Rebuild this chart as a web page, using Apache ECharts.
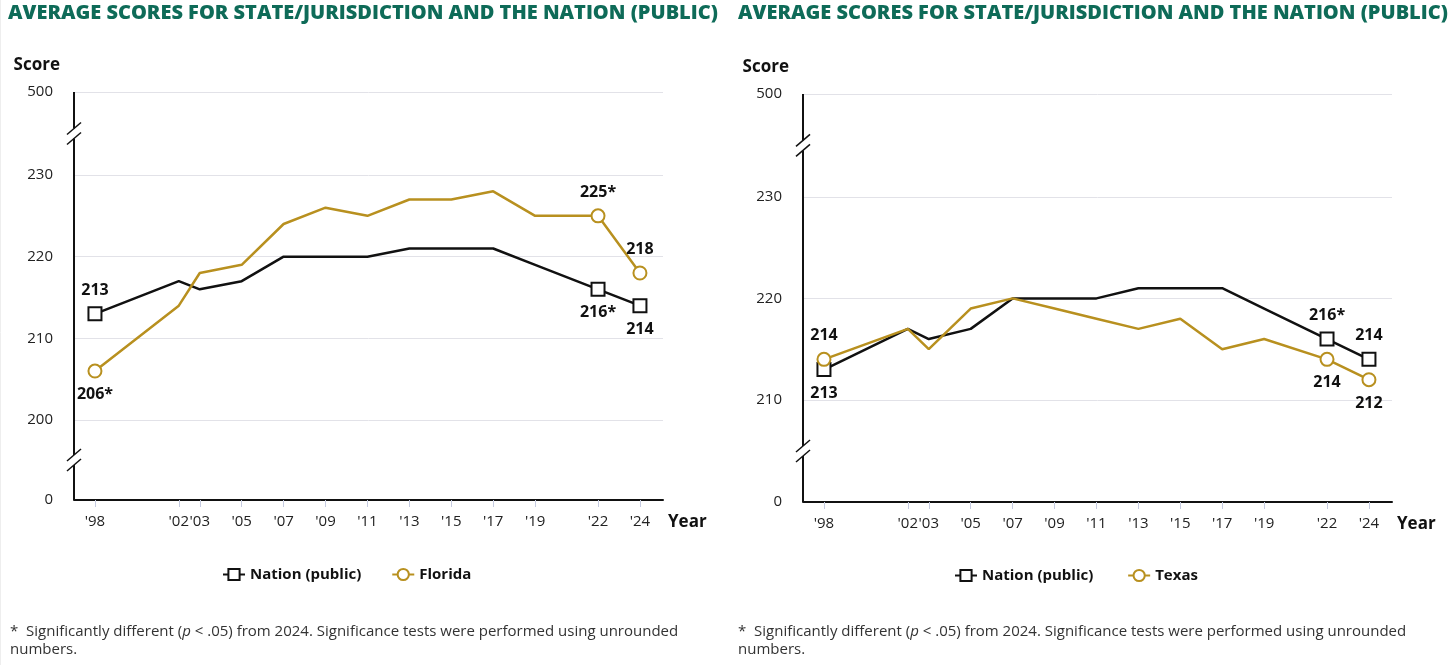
<!DOCTYPE html>
<html><head><meta charset="utf-8">
<script src="https://cdn.jsdelivr.net/npm/echarts@6/dist/echarts.min.js"></script>
<style>html,body{margin:0;padding:0;background:#fff}#c{width:1456px;height:665px}</style>
</head><body><div id="c"></div>
<script>
// ---------- data ----------
const years = [1998, 2002, 2003, 2005, 2007, 2009, 2011, 2013, 2015, 2017, 2019, 2022, 2024];
const nationScores  = [213, 217, 216, 217, 220, 220, 220, 221, 221, 221, 219, 216, 214];
const floridaScores = [206, 214, 218, 219, 224, 226, 225, 227, 227, 228, 225, 225, 218];
const texasScores   = [214, 217, 215, 219, 220, 219, 218, 217, 218, 215, 216, 214, 212];
// significance vs 2024 (asterisk)
const nationSig  = [false, false, false, false, false, false, false, false, false, false, false, true, false];
const floridaSig = [true, false, false, false, false, false, false, false, false, false, false, true, false];
const texasSig   = [false, false, false, false, false, false, false, false, false, false, false, false, false];
const markedYears = [1998, 2022, 2024];
const leftYTicks  = [0, 200, 210, 220, 230, 500];
const rightYTicks = [0, 210, 220, 230, 500];
const titleText = 'AVERAGE SCORES FOR STATE/JURISDICTION AND THE NATION (PUBLIC)';
const seriesNames = ['Nation (public)', 'Florida', 'Texas'];

// ---------- style ----------
const BLACK = '#111111';
const GOLD = '#B8901F';
const FONT = '"Open Sans", "Noto Sans", sans-serif';
const leftBreaks  = [{start: 0, end: 200, gap: '19.6%'}, {start: 230, end: 500, gap: '20.34%'}];
const rightBreaks = [{start: 0, end: 210, gap: '25%'}, {start: 230, end: 500, gap: '25.2%'}];

function buildData(scores, sig, positions) {
  return years.map((y, i) => {
    const k = markedYears.indexOf(y);
    if (k < 0) return {value: [y, scores[i]], symbol: 'none', label: {show: false}};
    return {
      value: [y, scores[i]],
      label: {show: true, position: positions[k], distance: 8,
        formatter: String(scores[i]) + (sig[i] ? '*' : ''),
        fontFamily: FONT, fontWeight: 'bold', fontSize: 16, color: BLACK}
    };
  });
}

function lineSeries(name, idx, scores, sig, positions, color, symbol, gridTicks) {
  const s = {
    type: 'line', name: name, xAxisIndex: idx, yAxisIndex: idx,
    data: buildData(scores, sig, positions),
    symbol: symbol, symbolSize: 13,
    lineStyle: {color: color, width: 2.5},
    itemStyle: {color: color, borderWidth: 2.5},
    emphasis: {disabled: true},
    z: gridTicks ? 3 : 4
  };
  if (gridTicks) {
    s.markLine = {
      silent: true, z: 1, symbol: 'none', animation: false,
      label: {show: false},
      lineStyle: {color: '#e2e2e8', width: 1, type: 'solid'},
      emphasis: {disabled: true},
      data: gridTicks.filter(v => v > 0).map(v => ({yAxis: v}))
    };
  }
  return s;
}

function xAxis(idx) {
  return {
    type: 'value', gridIndex: idx, min: 1997, max: 2025.1,
    name: 'Year', nameLocation: 'end', nameGap: 5,
    nameTextStyle: {fontFamily: FONT, fontWeight: 'bold', fontSize: 17, color: BLACK, verticalAlign: 'top', padding: [14, 0, 0, 0]},
    axisLine: {show: true, onZero: false, lineStyle: {color: BLACK, width: 2}},
    axisTick: {show: true, customValues: years, length: 7, lineStyle: {color: '#c5cbe0', width: 1}},
    axisLabel: {customValues: years, margin: 14, fontFamily: FONT, fontSize: 15, color: '#222',
      formatter: v => "'" + String(v).slice(2)},
    splitLine: {show: false}
  };
}

function yAxis(idx, breaks, ticks) {
  return {
    type: 'value', gridIndex: idx, min: 0, max: 500,
    breaks: breaks,
    breakArea: {show: false},
    name: 'Score', nameLocation: 'end', nameGap: 18,
    nameTextStyle: {fontFamily: FONT, fontWeight: 'bold', fontSize: 17, color: BLACK, align: 'right', padding: [0, 14, 0, 0]},
    axisLine: {show: true, onZero: false, lineStyle: {color: BLACK, width: 2}},
    axisTick: {show: false, customValues: ticks},
    axisLabel: {customValues: ticks, margin: 21, fontFamily: FONT, fontSize: 15, color: '#222',
      formatter: v => String(v)},
    splitLine: {show: false}
  };
}

const chart = echarts.init(document.getElementById('c'), null, {renderer: 'canvas'});
const legendText = {fontFamily: FONT, fontWeight: 'bold', fontSize: 15, color: BLACK};
const option = {
  animation: false,
  backgroundColor: '#fff',
  grid: [
    {left: 74, top: 92, width: 589, height: 408, containLabel: false},
    {left: 803, top: 94, width: 589, height: 408, containLabel: false}
  ],
  xAxis: [xAxis(0), xAxis(1)],
  yAxis: [yAxis(0, leftBreaks, leftYTicks), yAxis(1, rightBreaks, rightYTicks)],
  legend: [
    {left: 217, top: 562, itemWidth: 22, itemHeight: 14, itemGap: 30,
      data: [seriesNames[0], seriesNames[1]].map(n => ({name: n})),
      textStyle: legendText, selectedMode: false},
    {left: 949, top: 563, itemWidth: 22, itemHeight: 14, itemGap: 30,
      data: [seriesNames[0] + ' ', seriesNames[2]].map(n => ({name: n})),
      textStyle: legendText, selectedMode: false}
  ],
  series: [
    lineSeries(seriesNames[0], 0, nationScores, nationSig, ['top', 'bottom', 'bottom'], BLACK, 'emptyRect', leftYTicks),
    lineSeries(seriesNames[1], 0, floridaScores, floridaSig, ['bottom', 'top', 'top'], GOLD, 'emptyCircle'),
    lineSeries(seriesNames[0] + ' ', 1, nationScores, nationSig, ['bottom', 'top', 'top'], BLACK, 'emptyRect', rightYTicks),
    lineSeries(seriesNames[2], 1, texasScores, texasSig, ['top', 'bottom', 'bottom'], GOLD, 'emptyCircle')
  ]
};
chart.setOption(option);

// ---------- decorations: titles, footnotes, axis-break marks ----------
const graphics = [];
[8, 738].forEach(x => {
  graphics.push({type: 'text', left: x, top: 3, silent: true,
    style: {text: titleText, fontFamily: FONT, fontWeight: 800, fontSize: 20, fill: '#0E6B58'}});
});
[10, 738].forEach(x => {
  graphics.push({type: 'text', left: x, top: 624, silent: true,
    style: {
      text: '{n|*  Significantly different (}{i|p}{n| < .05) from 2024. Significance tests were performed using unrounded}\n{n|numbers.}',
      rich: {
        n: {fontFamily: FONT, fontSize: 15, fill: '#333', lineHeight: 18},
        i: {fontFamily: FONT, fontSize: 15, fill: '#333', fontStyle: 'italic', lineHeight: 18}
      }
    }});
});
graphics.push({type: 'line', silent: true, shape: {x1: 0.5, y1: 0, x2: 0.5, y2: 665}, style: {stroke: '#eeeeee', lineWidth: 1}});

function breakMarks(idx, axisX, breaks, ticks) {
  // continuous axis line across the breaks
  const yTop = chart.convertToPixel({yAxisIndex: idx}, ticks[ticks.length - 1]);
  const yBot = chart.convertToPixel({yAxisIndex: idx}, ticks[0]);
  graphics.push({type: 'line', silent: true, z: 99,
    shape: {x1: axisX, y1: yTop, x2: axisX, y2: yBot}, style: {stroke: BLACK, lineWidth: 2}});
  breaks.forEach(b => {
    const y1 = chart.convertToPixel({yAxisIndex: idx}, b.start);
    const y2 = chart.convertToPixel({yAxisIndex: idx}, b.end);
    const mid = (y1 + y2) / 2;
    graphics.push({type: 'rect', silent: true, z: 100, shape: {x: axisX - 3, y: mid - 5, width: 6, height: 10}, style: {fill: '#fff'}});
    [-5, 5].forEach(d => {
      graphics.push({type: 'line', silent: true, z: 101,
        shape: {x1: axisX - 7, y1: mid + d + 6, x2: axisX + 7, y2: mid + d - 6},
        style: {stroke: BLACK, lineWidth: 1.5}});
    });
  });
}
breakMarks(0, 74, leftBreaks, leftYTicks);
breakMarks(1, 803, rightBreaks, rightYTicks);
chart.setOption({graphic: graphics});
</script>
</body></html>
